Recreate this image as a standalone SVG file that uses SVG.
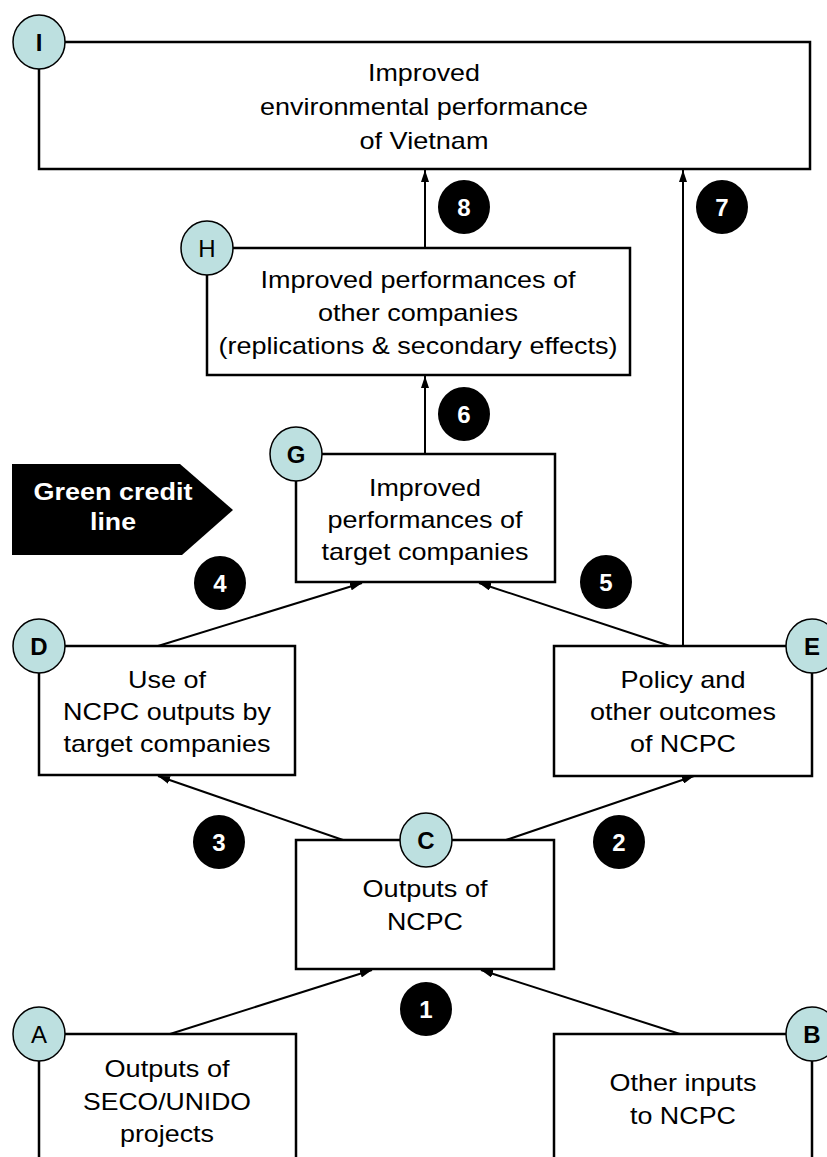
<svg xmlns="http://www.w3.org/2000/svg" width="827" height="1157" viewBox="0 0 827 1157">
<style>
.box{fill:#fff;stroke:#000;stroke-width:2.5}
.tag{fill:#bde0e0;stroke:#000;stroke-width:1.5}
.tagt{font-family:"Liberation Sans",Arial,sans-serif;font-size:24px;text-anchor:middle;fill:#000}
.t{font-family:"Liberation Sans",Arial,sans-serif;font-size:24px;text-anchor:middle;fill:#000}
.badge{fill:#000}
.bt{font-family:"Liberation Sans",Arial,sans-serif;font-size:24px;font-weight:bold;text-anchor:middle;fill:#fff}
.con{stroke:#000;stroke-width:2;fill:none;marker-end:url(#ah)}
</style>
<defs>
<marker id="ah" viewBox="0 0 12 8" markerWidth="12" markerHeight="8" refX="12" refY="4" orient="auto" markerUnits="userSpaceOnUse">
<path d="M0,0 L12,4 L0,8 z" fill="#000"/>
</marker>
</defs>
<rect width="827" height="1157" fill="#fff"/>

<g id="node-I">
<rect class="box" x="39" y="42" width="771" height="127"/>
<text class="t" x="424" y="81" textLength="112" lengthAdjust="spacingAndGlyphs">Improved</text>
<text class="t" x="424" y="115" textLength="328" lengthAdjust="spacingAndGlyphs">environmental performance</text>
<text class="t" x="424" y="149" textLength="129" lengthAdjust="spacingAndGlyphs">of Vietnam</text>
<ellipse class="tag" cx="39" cy="42" rx="26" ry="27"/>
<text class="tagt" x="39" y="50.5" font-weight="bold">I</text>
</g>

<g id="node-H">
<rect class="box" x="207" y="248" width="423" height="127"/>
<text class="t" x="418" y="288" textLength="315" lengthAdjust="spacingAndGlyphs">Improved performances of</text>
<text class="t" x="418" y="321" textLength="200" lengthAdjust="spacingAndGlyphs">other companies</text>
<text class="t" x="418" y="354" textLength="399" lengthAdjust="spacingAndGlyphs">(replications &amp; secondary effects)</text>
<ellipse class="tag" cx="207" cy="248" rx="26" ry="27"/>
<text class="tagt" x="207" y="256.5">H</text>
</g>

<g id="node-G">
<rect class="box" x="296" y="454" width="259" height="128"/>
<text class="t" x="425" y="496" textLength="112" lengthAdjust="spacingAndGlyphs">Improved</text>
<text class="t" x="425" y="528" textLength="195" lengthAdjust="spacingAndGlyphs">performances of</text>
<text class="t" x="425" y="560" textLength="207" lengthAdjust="spacingAndGlyphs">target companies</text>
<ellipse class="tag" cx="296" cy="454" rx="26" ry="27"/>
<text class="tagt" x="296" y="462.5" font-weight="bold">G</text>
</g>

<g id="green-credit-line">
<polygon points="12,464 180,464 233,510 182,555 12,555" fill="#000"/>
<text class="bt" x="113" y="500" textLength="159" lengthAdjust="spacingAndGlyphs">Green credit</text>
<text class="bt" x="113" y="530" textLength="46" lengthAdjust="spacingAndGlyphs">line</text>
</g>

<g id="node-D">
<rect class="box" x="39" y="646" width="256" height="129"/>
<text class="t" x="167" y="688" textLength="78" lengthAdjust="spacingAndGlyphs">Use of</text>
<text class="t" x="167" y="720" textLength="208" lengthAdjust="spacingAndGlyphs">NCPC outputs by</text>
<text class="t" x="167" y="752" textLength="207" lengthAdjust="spacingAndGlyphs">target companies</text>
<ellipse class="tag" cx="39" cy="646" rx="26" ry="27"/>
<text class="tagt" x="39" y="654.5" font-weight="bold">D</text>
</g>

<g id="node-E">
<rect class="box" x="554" y="646" width="258" height="130"/>
<text class="t" x="683" y="688" textLength="125" lengthAdjust="spacingAndGlyphs">Policy and</text>
<text class="t" x="683" y="720" textLength="186" lengthAdjust="spacingAndGlyphs">other outcomes</text>
<text class="t" x="683" y="752" textLength="106" lengthAdjust="spacingAndGlyphs">of NCPC</text>
<ellipse class="tag" cx="812" cy="646" rx="26" ry="27"/>
<text class="tagt" x="812" y="654.5" font-weight="bold">E</text>
</g>

<g id="node-C">
<rect class="box" x="296" y="840" width="258" height="129"/>
<text class="t" x="425" y="897" textLength="125" lengthAdjust="spacingAndGlyphs">Outputs of</text>
<text class="t" x="425" y="930" textLength="76" lengthAdjust="spacingAndGlyphs">NCPC</text>
<ellipse class="tag" cx="426" cy="840" rx="26" ry="27"/>
<text class="tagt" x="426" y="848.5" font-weight="bold">C</text>
</g>

<g id="node-A">
<rect class="box" x="39" y="1034" width="257" height="160"/>
<text class="t" x="167" y="1077" textLength="125" lengthAdjust="spacingAndGlyphs">Outputs of</text>
<text class="t" x="167" y="1110" textLength="168" lengthAdjust="spacingAndGlyphs">SECO/UNIDO</text>
<text class="t" x="167" y="1142" textLength="94" lengthAdjust="spacingAndGlyphs">projects</text>
<ellipse class="tag" cx="39" cy="1034" rx="26" ry="27"/>
<text class="tagt" x="39" y="1042.5">A</text>
</g>

<g id="node-B">
<rect class="box" x="554" y="1034" width="258" height="160"/>
<text class="t" x="683" y="1091" textLength="147" lengthAdjust="spacingAndGlyphs">Other inputs</text>
<text class="t" x="683" y="1124" textLength="106" lengthAdjust="spacingAndGlyphs">to NCPC</text>
<ellipse class="tag" cx="812" cy="1034" rx="26" ry="27"/>
<text class="tagt" x="812" y="1042.5" font-weight="bold">B</text>
</g>

<g id="connectors">
<line class="con" x1="170" y1="1034" x2="372" y2="970"/>
<line class="con" x1="680" y1="1034" x2="481" y2="970"/>
<line class="con" x1="506" y1="840" x2="694" y2="776"/>
<line class="con" x1="343" y1="840" x2="158" y2="776"/>
<line class="con" x1="158" y1="646" x2="362" y2="583"/>
<line class="con" x1="670" y1="646" x2="479" y2="583"/>
<line class="con" x1="425" y1="454" x2="425" y2="376"/>
<line class="con" x1="683" y1="646" x2="683" y2="170"/>
<line class="con" x1="425" y1="248" x2="425" y2="170"/>
</g>

<g id="badges">
<ellipse class="badge" cx="426" cy="1009" rx="26" ry="27"/>
<text class="bt" x="426" y="1017.5">1</text>
<ellipse class="badge" cx="619" cy="842" rx="26" ry="27"/>
<text class="bt" x="619" y="850.5">2</text>
<ellipse class="badge" cx="219" cy="842" rx="26" ry="27"/>
<text class="bt" x="219" y="850.5">3</text>
<ellipse class="badge" cx="220" cy="583" rx="26" ry="27"/>
<text class="bt" x="220" y="591.5">4</text>
<ellipse class="badge" cx="606" cy="582" rx="26" ry="27"/>
<text class="bt" x="606" y="590.5">5</text>
<ellipse class="badge" cx="464" cy="414" rx="26" ry="27"/>
<text class="bt" x="464" y="422.5">6</text>
<ellipse class="badge" cx="722" cy="207" rx="26" ry="27"/>
<text class="bt" x="722" y="215.5">7</text>
<ellipse class="badge" cx="464" cy="207" rx="26" ry="27"/>
<text class="bt" x="464" y="215.5">8</text>
</g>
</svg>
